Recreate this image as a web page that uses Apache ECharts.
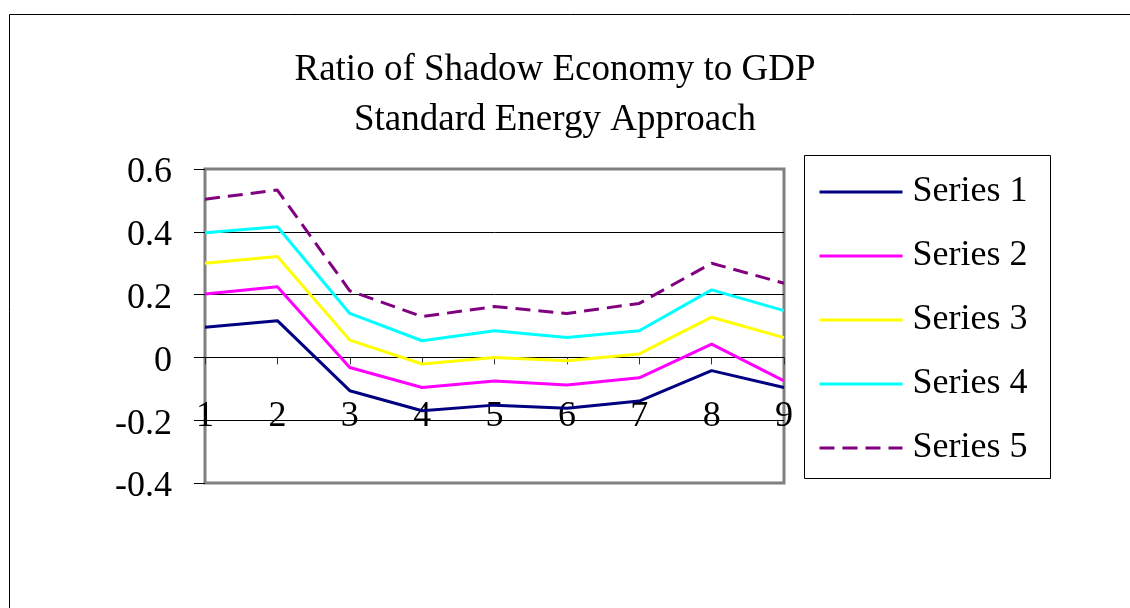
<!DOCTYPE html>
<html>
<head>
<meta charset="utf-8">
<script src="https://cdn.jsdelivr.net/npm/echarts@6/dist/echarts.min.js"></script>
<style>
  html, body { margin: 0; padding: 0; background: #ffffff; }
  #chart { width: 1130px; height: 608px; }
</style>
</head>
<body>
<div id="chart"></div>
<script>
// Category labels along the x axis
const categories = ['1', '2', '3', '4', '5', '6', '7', '8', '9'];

// Shadow economy / GDP ratios per series
const series1 = [0.096, 0.117, -0.106, -0.170, -0.152, -0.162, -0.139, -0.042, -0.096];
const series2 = [0.202, 0.225, -0.032, -0.096, -0.075, -0.088, -0.065, 0.042, -0.075];
const series3 = [0.300, 0.321, 0.055, -0.021, 0.000, -0.011, 0.011, 0.128, 0.063];
const series4 = [0.397, 0.416, 0.140, 0.053, 0.085, 0.063, 0.085, 0.215, 0.149];
const series5 = [0.504, 0.533, 0.212, 0.130, 0.162, 0.140, 0.172, 0.300, 0.236];

const seriesNames = ['Series 1', 'Series 2', 'Series 3', 'Series 4', 'Series 5'];
const seriesData = [series1, series2, series3, series4, series5];
const seriesColors = ['#000080', '#FF00FF', '#FFFF00', '#00FFFF', '#800080'];
const seriesDash = ['solid', 'solid', 'solid', 'solid', [15, 8]];

// Value axis settings
const yMin = -0.4;
const yMax = 0.6;
const yStep = 0.2;

const FONT = '"Liberation Serif", "Times New Roman", serif';

const chart = echarts.init(document.getElementById('chart'), null, { renderer: 'canvas' });

chart.setOption({
  backgroundColor: '#ffffff',
  animation: false,
  title: {
    text: 'Ratio of Shadow Economy to GDP\nStandard Energy Approach',
    left: 555,
    top: 45,
    padding: 0,
    textAlign: 'center',
    textStyle: {
      fontFamily: FONT,
      fontSize: 37,
      fontWeight: 'normal',
      color: '#000000',
      lineHeight: 50
    }
  },
  graphic: [
    {
      // outer chart frame
      type: 'rect',
      silent: true,
      shape: { x: 9.5, y: 14.5, width: 1200, height: 700 },
      style: { fill: 'none', stroke: '#000000', lineWidth: 1 }
    },
    {
      // legend frame
      type: 'rect',
      silent: true,
      shape: { x: 804.5, y: 155.5, width: 246, height: 323 },
      style: { fill: 'none', stroke: '#000000', lineWidth: 1 }
    }
  ],
  legend: {
    orient: 'vertical',
    left: 818,
    top: 172,
    padding: 0,
    itemGap: 24,
    itemWidth: 83,
    itemHeight: 14,
    data: seriesNames,
    itemStyle: { opacity: 0 },
    lineStyle: { width: 3 },
    textStyle: {
      fontFamily: FONT,
      fontSize: 36,
      color: '#000000',
      lineHeight: 40,
      padding: [0, 0, 0, 5]
    }
  },
  grid: {
    left: 205,
    right: 346,
    top: 169,
    bottom: 125,
    show: true,
    borderColor: '#808080',
    borderWidth: 3,
    backgroundColor: 'transparent',
    containLabel: false
  },
  xAxis: {
    type: 'category',
    data: categories,
    boundaryGap: false,
    axisLine: { show: true, onZero: true, lineStyle: { color: '#000000', width: 1 } },
    axisTick: { show: true, length: 7, lineStyle: { color: '#333333', width: 1 } },
    axisLabel: {
      interval: 0,
      margin: -84,
      fontFamily: FONT,
      fontSize: 36,
      color: '#000000'
    },
    splitLine: { show: false }
  },
  yAxis: {
    type: 'value',
    min: yMin,
    max: yMax,
    interval: yStep,
    axisLine: { show: false },
    axisTick: { show: true, length: 11, lineStyle: { color: '#000000', width: 1 } },
    axisLabel: {
      margin: 33,
      fontFamily: FONT,
      fontSize: 36,
      color: '#000000',
      verticalAlign: 'top',
      lineHeight: 8
    },
    splitLine: {
      show: true,
      showMinLine: false,
      showMaxLine: false,
      lineStyle: { color: '#000000', width: 1 }
    }
  },
  series: seriesNames.map((name, i) => ({
    name: name,
    type: 'line',
    data: seriesData[i],
    symbol: 'none',
    smooth: false,
    color: seriesColors[i],
    lineStyle: { color: seriesColors[i], width: 3, type: seriesDash[i] },
    z: 3
  }))
});
</script>
</body>
</html>
